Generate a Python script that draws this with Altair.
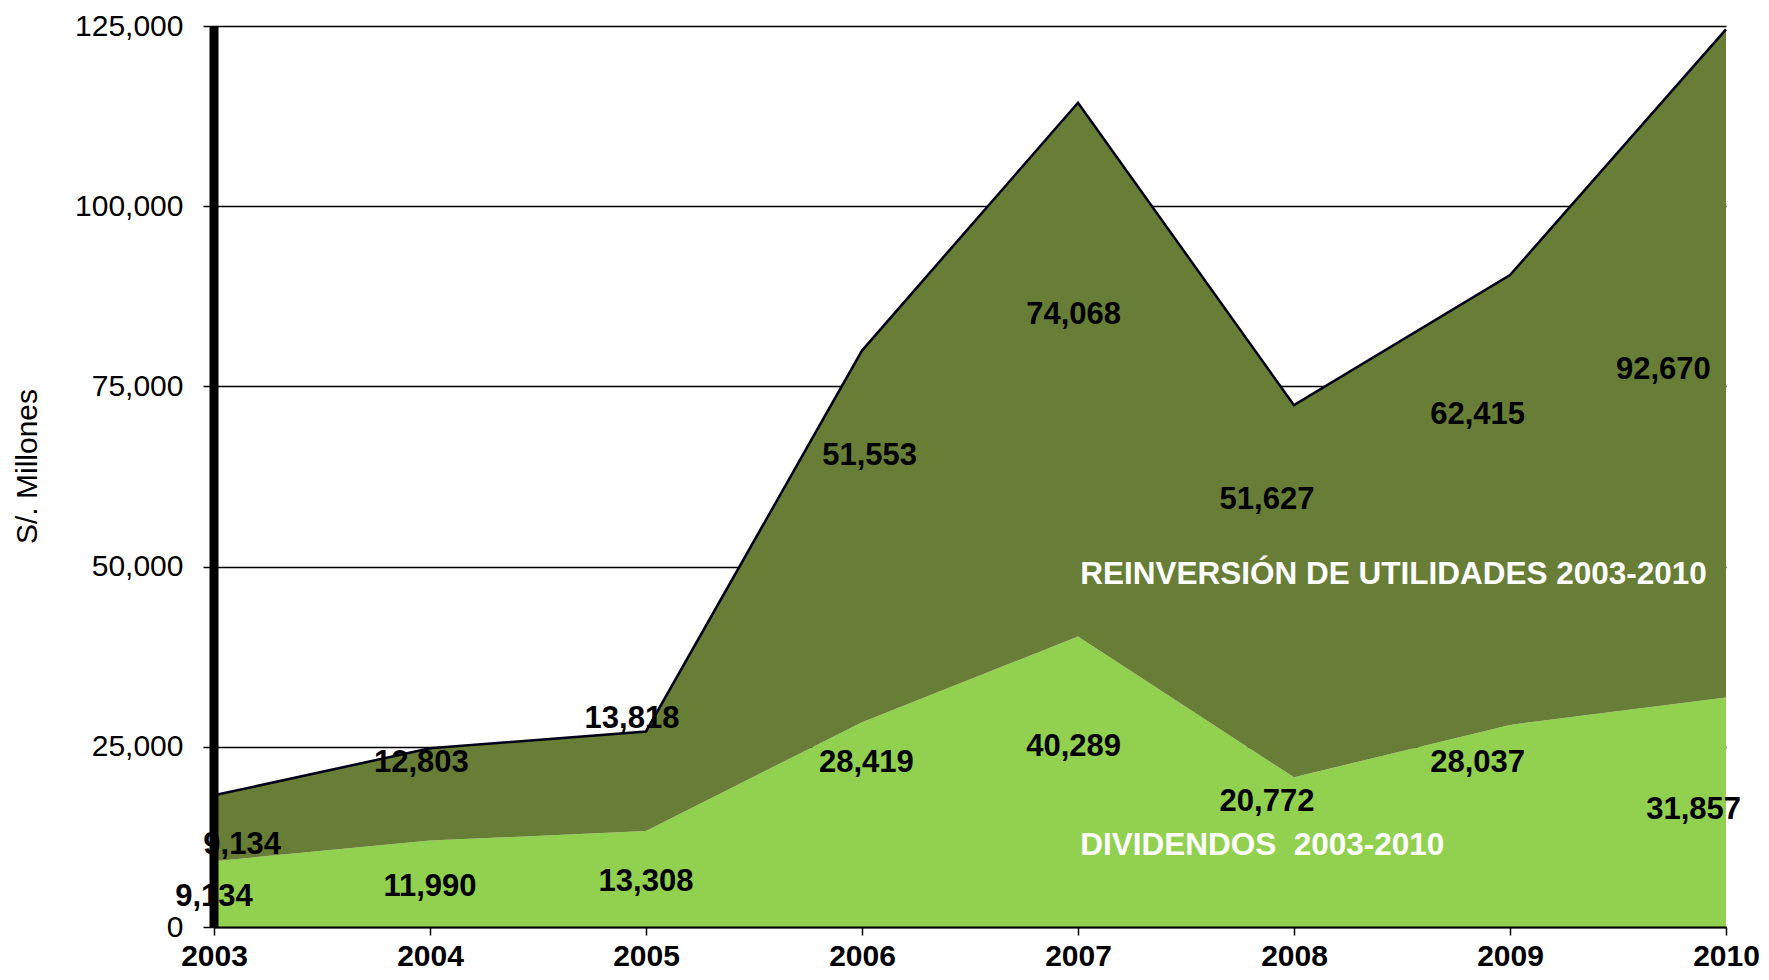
import altair as alt
import pandas as pd

years = [2003, 2004, 2005, 2006, 2007, 2008, 2009, 2010]
dividendos = [9134, 11990, 13308, 28419, 40289, 20772, 28037, 31857]
reinversion = [9134, 12803, 13818, 51553, 74068, 51627, 62415, 92670]
series_names = ["Dividendos", "Reinversión de utilidades"]
series_colors = ["#92D050", "#687E36"]
y_ticks = [0, 25000, 50000, 75000, 100000, 125000]

# label anchors (data units)
div_label_y = [4200, 5600, 6200, 22800, 25000, 17300, 22700, 16200]
div_label_dx = [0.0, 0.0, 0.0, 0.02, -0.02, -0.125, -0.15, -0.15]
reinv_label_y = [11400, 22700, 28800, 65400, 84900, 59300, 71000, 77300]
reinv_label_dx = [0.13, -0.04, -0.065, 0.035, -0.02, -0.125, -0.15, -0.29]

area_titles = ["REINVERSIÓN DE UTILIDADES 2003-2010", "DIVIDENDOS \u00a02003-2010"]
area_title_x = [2007.01, 2007.01]
area_title_y = [48800, 11200]

df = pd.DataFrame({
    "year": years + years,
    "serie": [series_names[0]] * len(years) + [series_names[1]] * len(years),
    "value": dividendos + reinversion,
    "orden": [0] * len(years) + [1] * len(years),
})

lab = pd.DataFrame({
    "x": [y + d for y, d in zip(years, div_label_dx)] + [y + d for y, d in zip(years, reinv_label_dx)],
    "y": div_label_y + reinv_label_y,
    "value": dividendos + reinversion,
})

titles = pd.DataFrame({"x": area_title_x, "y": area_title_y, "t": area_titles})

xscale = alt.Scale(domain=[2003, 2010], nice=False, zero=False)
yscale = alt.Scale(domain=[0, 125000], nice=False)

x_axis = alt.Axis(values=years, format="d", title=None, grid=False,
                  labelFont="Liberation Sans", labelFontWeight="bold", labelFontSize=30,
                  labelColor="black", labelPadding=6, labelFlush=False, labelOverlap=False,
                  tickColor="black", tickSize=8, tickWidth=1.5,
                  domainColor="black", domainWidth=2, zindex=1)
y_axis = alt.Axis(values=y_ticks, format=",d", title="S/. Millones",
                  labelFont="Liberation Sans", labelFontSize=30, labelColor="black",
                  labelPadding=20, labelFlush=False, tickColor="black", tickSize=11, tickWidth=1.5,
                  domain=False, grid=True, gridColor="black", gridWidth=1.5,
                  titleFont="Liberation Sans", titleFontSize=30, titleFontWeight="normal",
                  titleColor="black", titleAngle=270, titleX=-187, titleY=440,
                  titleAlign="center", titleBaseline="middle")

area = alt.Chart(df).mark_area(opacity=1, interpolate="linear").encode(
    x=alt.X("year:Q", scale=xscale, axis=x_axis),
    y=alt.Y("value:Q", stack="zero", scale=yscale, axis=y_axis),
    color=alt.Color("serie:N", scale=alt.Scale(domain=series_names, range=series_colors), legend=None),
    order=alt.Order("orden:Q"),
)

line = alt.Chart(df).transform_aggregate(
    total="sum(value)", groupby=["year"]
).mark_line(color="#000018", strokeWidth=2.5).encode(
    x=alt.X("year:Q", scale=xscale),
    y=alt.Y("total:Q", scale=yscale),
)

bar = alt.Chart().mark_rule(color="black", strokeWidth=9).encode(
    x=alt.datum(2003), y=alt.datum(0), y2=alt.datum(125000)
)

labels = alt.Chart(lab).mark_text(font="Liberation Sans", fontWeight="bold", fontSize=31,
                                  color="black", align="center", baseline="middle").encode(
    x=alt.X("x:Q", scale=xscale),
    y=alt.Y("y:Q", scale=yscale),
    text=alt.Text("value:Q", format=","),
)

area_labels = alt.Chart(titles).mark_text(
    font="Liberation Sans", fontWeight="bold", fontSize=31.5, color="white",
    align="left", baseline="middle").encode(
    x=alt.X("x:Q", scale=xscale),
    y=alt.Y("y:Q", scale=yscale),
    text="t:N",
)

chart = alt.layer(area, line, bar, labels, area_labels).properties(
    width=1512, height=901, autosize="none",
    padding={"left": 206, "top": 18, "right": 35, "bottom": 45},
).configure_view(stroke=None)

chart.save("out.html", embed_options={"renderer": "svg", "actions": False})
